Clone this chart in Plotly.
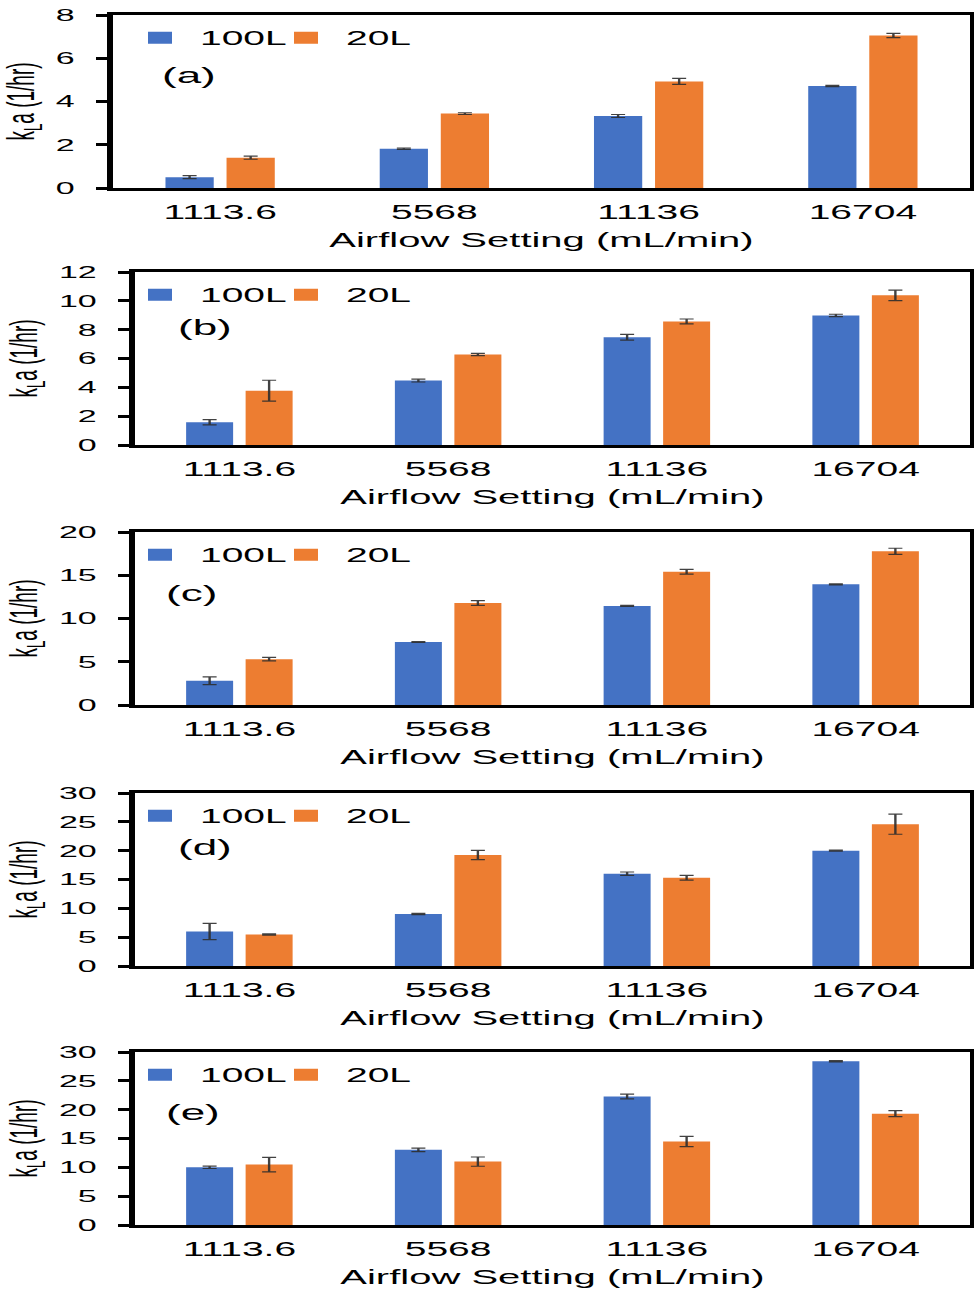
import plotly.graph_objects as go

# Airflow settings (categories shared by every panel)
airflow = ["1113.6", "5568", "11136", "16704"]
panel_tags = ["(a)", "(b)", "(c)", "(d)", "(e)"]

# kLa (1/hr) for the 100L and 20L vessels, with error bars
kla_100L_a = [0.50, 1.82, 3.33, 4.72]
err_100L_a = [0.07, 0.03, 0.07, 0.03]
kla_20L_a = [1.40, 3.44, 4.93, 7.05]
err_20L_a = [0.07, 0.04, 0.14, 0.10]

kla_100L_b = [1.58, 4.47, 7.48, 8.99]
err_100L_b = [0.18, 0.10, 0.20, 0.08]
kla_20L_b = [3.77, 6.28, 8.57, 10.38]
err_20L_b = [0.72, 0.08, 0.17, 0.36]

kla_100L_c = [2.80, 7.28, 11.45, 13.95]
err_100L_c = [0.45, 0.05, 0.06, 0.07]
kla_20L_c = [5.30, 11.79, 15.41, 17.77]
err_20L_c = [0.20, 0.27, 0.27, 0.35]

kla_100L_d = [5.98, 9.02, 16.00, 20.00]
err_100L_d = [1.40, 0.10, 0.30, 0.10]
kla_20L_d = [5.46, 19.25, 15.30, 24.60]
err_20L_d = [0.10, 0.79, 0.40, 1.75]

kla_100L_e = [10.00, 13.03, 22.28, 28.39]
err_100L_e = [0.20, 0.30, 0.40, 0.10]
kla_20L_e = [10.47, 10.99, 14.48, 19.30]
err_20L_e = [1.25, 0.80, 0.90, 0.52]

y_max = [8, 12, 20, 30, 30]
y_step = [2, 2, 5, 5, 5]

series_100L = [(kla_100L_a, err_100L_a), (kla_100L_b, err_100L_b), (kla_100L_c, err_100L_c),
               (kla_100L_d, err_100L_d), (kla_100L_e, err_100L_e)]
series_20L = [(kla_20L_a, err_20L_a), (kla_20L_b, err_20L_b), (kla_20L_c, err_20L_c),
              (kla_20L_d, err_20L_d), (kla_20L_e, err_20L_e)]

BLUE = "#4472C4"
ORANGE = "#ED7D31"
FONT = "Arial, Liberation Sans, sans-serif"

# page geometry (final page is 974 px wide; the figure is drawn at half width
# and stretched horizontally by 2x when displayed)
PAGE_W, PAGE_H = 974, 1289
FIG_W = PAGE_W / 2
tops = [15, 272, 532, 793, 1052]
panel_h = 173
lefts = [113, 135, 135, 135, 135]
right = 970
tag_pos = [(158, 60), (173, 55), (161, 61), (173, 54), (161, 60)]
legend_x = {"100L": 120, "20L": 266}


def px(x):
    return x / PAGE_W


def py(y):
    return 1 - y / PAGE_H


fig = go.Figure()
annotations = []
layout = {}

for i in range(5):
    n = i + 1
    suffix = "" if n == 1 else str(n)
    xa, ya = "x" + suffix, "y" + suffix
    top, bot = tops[i], tops[i] + panel_h
    for k, (name, (vals, errs), color) in enumerate((("100L", series_100L[i], BLUE),
                                                    ("20L", series_20L[i], ORANGE))):
        leg = "legend" + str(2 * i + k + 2)
        fig.add_trace(go.Bar(
            x=airflow, y=vals, name=name, xaxis=xa, yaxis=ya, legend=leg,
            showlegend=True,
            marker=dict(color=color, line=dict(width=0)),
            error_y=dict(type="data", array=errs, color="rgba(45,45,45,0.9)",
                         thickness=1.2, width=3.5),
        ))
        layout[leg] = dict(
            orientation="h", x=px(legend_x[name]), y=py(top + 23),
            xanchor="left", yanchor="middle",
            bgcolor="rgba(0,0,0,0)", font=dict(family=FONT, size=19.5, color="black"),
            itemwidth=30,
        )

    layout["xaxis" + suffix] = dict(
        domain=[px(lefts[i]), px(right)], anchor=ya,
        showline=True, mirror=True, linecolor="black", linewidth=2.5,
        ticks="", showgrid=False, zeroline=False,
        tickfont=dict(family=FONT, size=19.5, color="black"),
        ticklabelstandoff=5,
        title=dict(text="Airflow Setting (mL/min)", standoff=11,
                   font=dict(family=FONT, size=20, color="black")),
    )
    layout["yaxis" + suffix] = dict(
        domain=[py(bot), py(top)], anchor=xa,
        range=[0, y_max[i]], dtick=y_step[i],
        showline=True, mirror=True, linecolor="black", linewidth=2.5,
        ticks="outside", ticklen=6, tickwidth=2.5, tickcolor="black",
        showgrid=False, zeroline=False,
        tickfont=dict(family=FONT, size=17, color="black"),
        ticklabelstandoff=7,
        title=dict(text="k<sub>L</sub>a (1/hr)", standoff=6,
                   font=dict(family=FONT, size=19, color="black")),
    )
    # panel tag
    tx, ty = tag_pos[i]
    annotations.append(dict(
        x=px(tx), y=py(top + ty), xref="paper", yref="paper",
        text=panel_tags[i], showarrow=False, xanchor="left", yanchor="middle",
        font=dict(family=FONT, size=22, color="black"),
    ))

fig.update_layout(
    width=FIG_W, height=PAGE_H,
    margin=dict(l=0, r=0, t=0, b=0, autoexpand=False),
    paper_bgcolor="white", plot_bgcolor="white",
    barmode="group", bargap=0.43, bargroupgap=0.21,
    showlegend=True,
    annotations=annotations,
    **layout,
)

stretch = """
var root = document.documentElement;
root.style.margin = '0'; root.style.padding = '0';
root.style.height = '1289px'; root.style.overflow = 'hidden';
document.body.style.margin = '0'; document.body.style.padding = '0';
document.body.style.height = '1289px'; document.body.style.overflow = 'hidden';
var gd = document.getElementById('{plot_id}');
gd.style.position = 'absolute';
gd.style.left = '0px';
gd.style.top = '0px';
gd.style.transformOrigin = '0 0';
gd.style.transform = 'scaleX(2)';
"""

fig.write_html("out.html", post_script=stretch, config={"displayModeBar": False})
